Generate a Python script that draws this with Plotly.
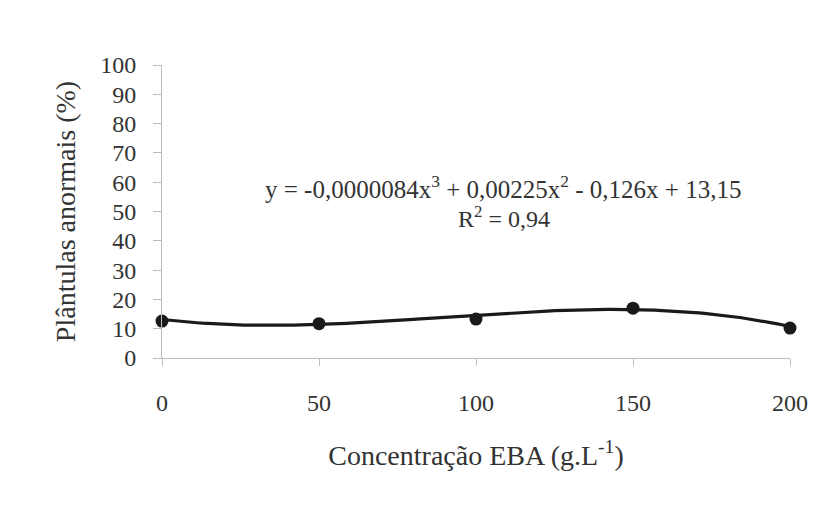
import numpy as np
import plotly.graph_objects as go

# Data
concentracao = [0, 50, 100, 150, 200]
plantulas_anormais = [12.6, 11.7, 13.3, 17.0, 10.2]
coef = [-0.0000084, 0.00225, -0.126, 13.15]  # cubic trendline, highest power first
x_ticks = [0, 50, 100, 150, 200]
y_ticks = list(range(0, 101, 10))

xs = np.linspace(0, 200, 201)
ys = np.polyval(coef, xs)

font_family = "Liberation Serif"
txt = "#333333"

fig = go.Figure()
fig.add_trace(go.Scatter(x=xs, y=ys, mode="lines",
                         line=dict(color="#1a1a1a", width=3.2),
                         hoverinfo="skip", showlegend=False, cliponaxis=False))
fig.add_trace(go.Scatter(x=concentracao, y=plantulas_anormais, mode="markers",
                         marker=dict(color="#1a1a1a", size=13),
                         showlegend=False, cliponaxis=False))

fig.add_annotation(xref="paper", yref="paper", x=(503 - 162) / 628, y=(358 - 187) / 293,
                   text="y = -0,0000084x<sup>3</sup> + 0,00225x<sup>2</sup> - 0,126x + 13,15",
                   showarrow=False, font=dict(family=font_family, size=25, color=txt),
                   xanchor="center", yanchor="middle")
fig.add_annotation(xref="paper", yref="paper", x=(504 - 162) / 628, y=(358 - 217) / 293,
                   text="R<sup>2</sup> = 0,94",
                   showarrow=False, font=dict(family=font_family, size=24, color=txt),
                   xanchor="center", yanchor="middle")

fig.update_layout(
    width=832, height=515,
    margin=dict(l=162, r=42, t=65, b=157),
    paper_bgcolor="white", plot_bgcolor="white",
    font=dict(family=font_family, color=txt),
    xaxis=dict(range=[0, 200], tickvals=x_ticks, ticktext=[str(v) for v in x_ticks],
               showgrid=False, zeroline=False, showline=True, linecolor="#bdbdbd", linewidth=1,
               ticks="outside", ticklen=7, tickcolor="#bdbdbd",
               tickfont=dict(size=24, family=font_family, color=txt),
               ticklabelstandoff=16,
               title=dict(text="Concentração EBA (g.L<sup>-1</sup>)",
                          font=dict(size=28, family=font_family, color=txt), standoff=30)),
    yaxis=dict(range=[0, 100], tickvals=y_ticks,
               showgrid=False, zeroline=False, showline=True, linecolor="#bdbdbd", linewidth=1,
               ticks="outside", ticklen=8, tickcolor="#bdbdbd",
               tickfont=dict(size=24, family=font_family, color=txt),
               ticklabelstandoff=12,
               title=dict(text="Plântulas anormais (%)",
                          font=dict(size=28, family=font_family, color=txt), standoff=16)),
)

fig.write_html("out.html")
